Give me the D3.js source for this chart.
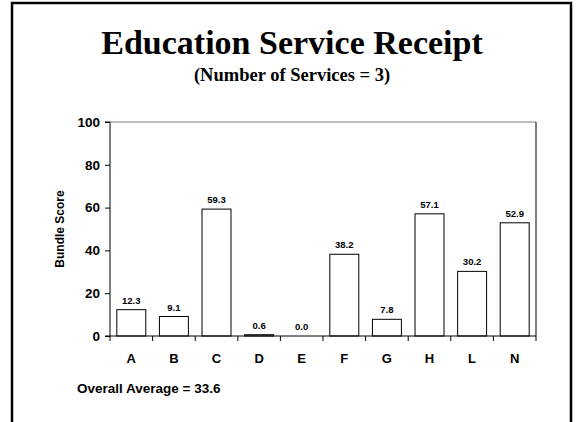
<!DOCTYPE html>
<html>
<head>
<meta charset="utf-8">
<script src="https://cdn.jsdelivr.net/npm/d3@7"></script>
<style>
  html, body { margin: 0; padding: 0; background: #fff; }
  svg { display: block; }
</style>
</head>
<body>
<svg id="chart" width="576" height="422"></svg>
<script>
// Bundle scores by agency group
const categories = ["A", "B", "C", "D", "E", "F", "G", "H", "L", "N"];
const scores = [12.3, 9.1, 59.3, 0.6, 0.0, 38.2, 7.8, 57.1, 30.2, 52.9];
const yTicks = [0, 20, 40, 60, 80, 100];
const titleText = "Education Service Receipt";
const subtitleText = "(Number of Services = 3)";
const yLabel = "Bundle Score";
const overallAverage = 33.6;

const svg = d3.select("#chart");
const sans = "'Liberation Sans', Arial, sans-serif";
const serif = "'Liberation Serif', 'Times New Roman', serif";

// slide frame
svg.append("rect")
  .attr("x", 12).attr("y", 3)
  .attr("width", 559).attr("height", 440)
  .attr("fill", "none").attr("stroke", "#000").attr("stroke-width", 2.5);

// titles
svg.append("text")
  .attr("x", 292).attr("y", 54)
  .attr("text-anchor", "middle")
  .attr("font-family", serif).attr("font-weight", "bold")
  .attr("font-size", 34)
  .text(titleText);

svg.append("text")
  .attr("x", 292).attr("y", 80.5)
  .attr("text-anchor", "middle")
  .attr("font-family", serif).attr("font-weight", "bold")
  .attr("font-size", 18.5)
  .text(subtitleText);

// plot area
const plotLeft = 110, plotRight = 536, plotTop = 122, plotBottom = 336;

const x = d3.scaleBand().domain(categories).range([plotLeft, plotRight]).paddingInner(0.32).paddingOuter(0.16);
const xEdges = d3.scaleLinear().domain([0, categories.length]).range([plotLeft, plotRight]);
const y = d3.scaleLinear().domain([0, 100]).range([plotBottom, plotTop]);

// frame lines: top (grey) and right (black)
svg.append("line")
  .attr("x1", plotLeft).attr("x2", plotRight).attr("y1", plotTop).attr("y2", plotTop)
  .attr("stroke", "#808080").attr("stroke-width", 1);
svg.append("line")
  .attr("x1", plotRight).attr("x2", plotRight).attr("y1", plotTop).attr("y2", plotBottom)
  .attr("stroke", "#000").attr("stroke-width", 1);

// bars
svg.append("g").selectAll("rect")
  .data(categories)
  .join("rect")
  .attr("x", d => x(d))
  .attr("width", x.bandwidth())
  .attr("y", (d, i) => y(scores[i]))
  .attr("height", (d, i) => y(0) - y(scores[i]))
  .attr("fill", "#fff")
  .attr("stroke", "#000")
  .attr("stroke-width", 1);

// value labels
svg.append("g").selectAll("text")
  .data(categories)
  .join("text")
  .attr("x", d => x(d) + x.bandwidth() / 2)
  .attr("y", (d, i) => y(scores[i]) - 6)
  .attr("text-anchor", "middle")
  .attr("font-family", sans).attr("font-weight", "bold")
  .attr("font-size", 9.5)
  .text((d, i) => scores[i].toFixed(1));

// y axis
const yAxis = d3.axisLeft(y).tickValues(yTicks).tickSize(5).tickPadding(5).tickFormat(d3.format("d"));
const gy = svg.append("g").attr("transform", `translate(${plotLeft},0)`).call(yAxis);
gy.select(".domain").attr("stroke", "#000").attr("d", `M-5,${plotTop}H0V${plotBottom}H-5`);
gy.selectAll(".tick line").attr("stroke", "#000");
gy.selectAll(".tick text")
  .attr("font-family", sans).attr("font-weight", "bold")
  .attr("font-size", 13.5).attr("fill", "#000");

// x axis: baseline with tick marks at category boundaries
const gx = svg.append("g").attr("transform", `translate(0,${plotBottom})`);
gx.append("line")
  .attr("x1", plotLeft).attr("x2", plotRight)
  .attr("stroke", "#000").attr("stroke-width", 1);
gx.selectAll("line.tick")
  .data(d3.range(categories.length + 1))
  .join("line")
  .attr("class", "tick")
  .attr("x1", d => xEdges(d)).attr("x2", d => xEdges(d))
  .attr("y1", 0).attr("y2", 5)
  .attr("stroke", "#000");
gx.selectAll("text")
  .data(categories)
  .join("text")
  .attr("x", d => x(d) + x.bandwidth() / 2)
  .attr("y", 26.5)
  .attr("text-anchor", "middle")
  .attr("font-family", sans).attr("font-weight", "bold")
  .attr("font-size", 13)
  .text(d => d);

// y axis title
svg.append("text")
  .attr("transform", `translate(63.5,${(plotTop + plotBottom) / 2}) rotate(-90)`)
  .attr("text-anchor", "middle")
  .attr("font-family", sans).attr("font-weight", "bold")
  .attr("font-size", 12)
  .text(yLabel);

// overall average note
svg.append("text")
  .attr("x", 77).attr("y", 393)
  .attr("font-family", sans).attr("font-weight", "bold")
  .attr("font-size", 13.5)
  .text(`Overall Average = ${overallAverage.toFixed(1)}`);
</script>
</body>
</html>
